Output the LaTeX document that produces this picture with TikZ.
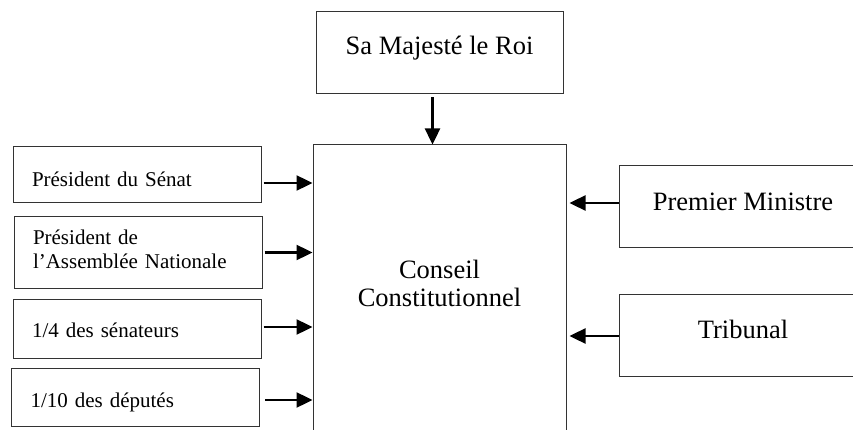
\documentclass[tikz,border=0pt]{standalone}
\usepackage{fontspec}
\setmainfont{Liberation Serif}
\usepackage{tikz}
\usetikzlibrary{arrows.meta,positioning}

\begin{document}
\begin{tikzpicture}[
  x=1pt, y=-1pt,
  box/.style={draw=black!80, line width=1pt, inner sep=0pt, align=center},
  hd/.style 2 args={text height=#1, text depth=#2},
  bigbox/.style={box, font=\fontsize{26.5pt}{28pt}\selectfont},
  smallbox/.style={box, text width=210pt, inner xsep=19pt,
    align=left, font=\fontsize{21pt}{24pt}\selectfont},
  arr/.style={-{Triangle[length=16pt, width=15pt]}, line width=2.4pt},
]
\useasboundingbox (0,0) rectangle (853,430);
\clip (0,0) rectangle (853,430);

% centre and top
\node[bigbox, text width=253pt, hd={133pt}{157pt}] (cc) at (439.5,290)
  {Conseil\\Constitutionnel};
\node[bigbox, minimum width=247pt, hd={43pt}{39pt}] (roi) at (439.5,53)
  {Sa Majest\'e le Roi};

% who can refer (left)
\node[smallbox, hd={40pt}{16pt}] (psenat) at (137,175) {Pr\'esident du S\'enat};
\node[smallbox, hd={27pt}{44pt}] (pan) at (138,252.5)
  {Pr\'esident de\\l'Assembl\'ee Nationale};
\node[smallbox, hd={38pt}{21pt}] (senat) at (137,328.5) {1/4 des s\'enateurs};
\node[smallbox, hd={39pt}{19pt}] (deputes) at (135.5,397) {1/10 des d\'eput\'es};

% right side
\node[bigbox, minimum width=248pt, hd={45pt}{36pt}] (pm) at (743,206.5)
  {Premier Ministre};
\node[bigbox, minimum width=248pt, hd={44pt}{38pt}] (trib) at (743,335)
  {Tribunal};

\draw[arr] ([xshift=-7pt,yshift=-3pt]roi.south) -- ([xshift=-7pt]roi.south |- cc.north);

\draw[arr] ([xshift=2pt,yshift=-8pt]psenat.east) -- ([yshift=-8pt]psenat.east -| cc.west);
\draw[arr] ([xshift=2pt]pan.east) -- (pan.east -| cc.west);
\draw[arr] ([xshift=2pt,yshift=1.5pt]senat.east) -- ([yshift=1.5pt]senat.east -| cc.west);
\draw[arr] ([xshift=5pt,yshift=-3pt]deputes.east) -- ([yshift=-3pt]deputes.east -| cc.west);

\draw[arr] ([yshift=3.5pt]pm.west) -- ([xshift=3pt,yshift=3.5pt]pm.west -| cc.east);
\draw[arr] ([yshift=-1pt]trib.west) -- ([xshift=3pt,yshift=-1pt]trib.west -| cc.east);

\end{tikzpicture}
\end{document}
